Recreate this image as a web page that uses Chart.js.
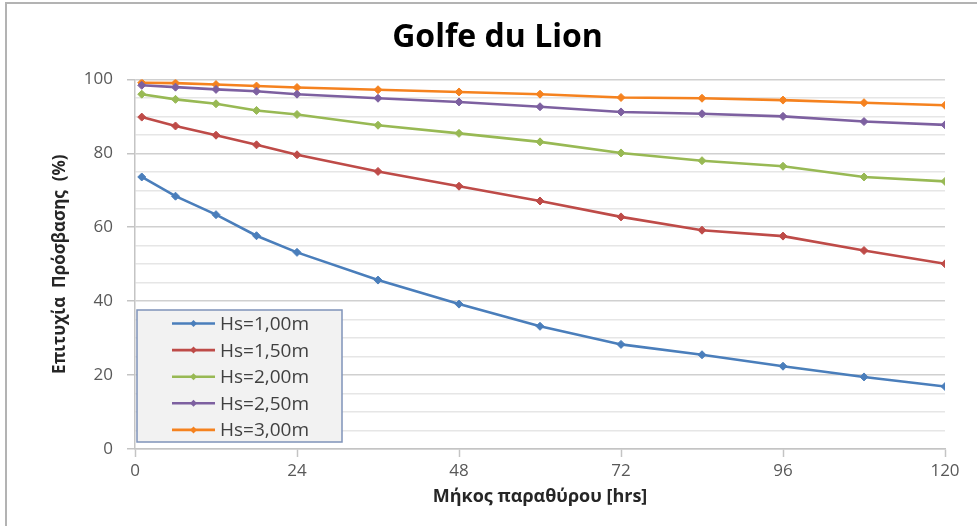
<!DOCTYPE html>
<html>
<head>
<meta charset="utf-8">
<title>Golfe du Lion</title>
<script src="https://cdn.jsdelivr.net/npm/chart.js@4.4.1/dist/chart.umd.min.js"></script>
<style>
  html, body { margin: 0; padding: 0; background: #ffffff; }
  #wrap { position: relative; width: 977px; height: 526px; }
  canvas { display: block; }
</style>
</head>
<body>
<div id="wrap"><canvas id="chart" width="977" height="526"></canvas></div>
<script>
// Window length (hours) at which accessibility was evaluated
const hours = [1, 6, 12, 18, 24, 36, 48, 60, 72, 84, 96, 108, 120];

// Access success (%) for each significant wave height threshold
const hs100 = [73.6, 68.4, 63.4, 57.7, 53.2, 45.7, 39.2, 33.2, 28.3, 25.5, 22.4, 19.5, 16.9];
const hs150 = [89.8, 87.4, 84.9, 82.3, 79.6, 75.1, 71.1, 67.1, 62.8, 59.2, 57.6, 53.7, 50.1];
const hs200 = [96.0, 94.6, 93.4, 91.6, 90.5, 87.6, 85.4, 83.1, 80.1, 78.0, 76.5, 73.6, 72.4];
const hs250 = [98.4, 97.9, 97.3, 96.8, 96.0, 94.9, 93.9, 92.6, 91.2, 90.7, 90.0, 88.6, 87.7];
const hs300 = [99.1, 99.0, 98.6, 98.2, 97.8, 97.2, 96.6, 96.0, 95.1, 94.9, 94.4, 93.7, 93.0];

const seriesNames = ['Hs=1,00m', 'Hs=1,50m', 'Hs=2,00m', 'Hs=2,50m', 'Hs=3,00m'];
const seriesValues = [hs100, hs150, hs200, hs250, hs300];
const seriesColors = ['#4a7ebb', '#be4b48', '#98b954', '#7d60a0', '#f5821f'];

const xTicks = [0, 24, 48, 72, 96, 120];
const yLabelled = [0, 20, 40, 60, 80, 100];

const FONT = '"Open Sans", "DejaVu Sans", sans-serif';

const datasets = seriesNames.map((name, i) => ({
  label: name,
  data: hours.map((h, k) => ({ x: h, y: seriesValues[i][k] })),
  borderColor: seriesColors[i],
  backgroundColor: seriesColors[i],
  borderWidth: 2.6,
  pointStyle: 'rectRot',
  pointRadius: 4,
  pointBorderWidth: 1,
  pointBorderColor: seriesColors[i],
  pointBackgroundColor: seriesColors[i],
  tension: 0,
  fill: false
}));

// Outer frame of the chart sheet
const framePlugin = {
  id: 'frame',
  beforeDraw(chart) {
    const ctx = chart.ctx;
    ctx.save();
    ctx.strokeStyle = '#b3b3b3';
    ctx.lineWidth = 2;
    ctx.beginPath();
    ctx.moveTo(6, chart.height);
    ctx.lineTo(6, 3);
    ctx.lineTo(chart.width, 3);
    ctx.stroke();
    ctx.restore();
  }
};

// Boxed legend placed inside the lower-left corner of the plot area
const insetLegend = {
  id: 'insetLegend',
  afterDatasetsDraw(chart) {
    const ctx = chart.ctx;
    const area = chart.chartArea;
    const boxW = 205, boxH = 132;
    const x0 = area.left + 2;
    const y0 = area.bottom - 7 - boxH;
    ctx.save();
    ctx.fillStyle = '#f2f2f2';
    ctx.fillRect(x0, y0, boxW, boxH);
    ctx.strokeStyle = '#7f93b9';
    ctx.lineWidth = 1.5;
    ctx.strokeRect(x0, y0, boxW, boxH);
    ctx.font = '19px ' + FONT;
    ctx.textBaseline = 'middle';
    ctx.textAlign = 'left';
    chart.data.datasets.forEach((ds, i) => {
      const cy = y0 + 13.5 + i * 26.6;
      ctx.strokeStyle = ds.borderColor;
      ctx.lineWidth = 2.6;
      ctx.beginPath();
      ctx.moveTo(x0 + 35, cy);
      ctx.lineTo(x0 + 78, cy);
      ctx.stroke();
      ctx.fillStyle = ds.borderColor;
      ctx.beginPath();
      ctx.moveTo(x0 + 56.5, cy - 3.5);
      ctx.lineTo(x0 + 60, cy);
      ctx.lineTo(x0 + 56.5, cy + 3.5);
      ctx.lineTo(x0 + 53, cy);
      ctx.closePath();
      ctx.fill();
      ctx.fillStyle = '#404040';
      ctx.fillText(ds.label, x0 + 83, cy + 1);
    });
    ctx.restore();
  }
};

new Chart(document.getElementById('chart'), {
  type: 'line',
  data: { datasets },
  plugins: [framePlugin, insetLegend],
  options: {
    responsive: false,
    animation: false,
    devicePixelRatio: 1,
    layout: { padding: { left: 50, right: 32, top: 0, bottom: 0 } },
    plugins: {
      legend: { display: false },
      tooltip: { enabled: false },
      title: {
        display: true,
        text: 'Golfe du Lion',
        color: '#000000',
        font: { family: FONT, size: 32, weight: 'bold' },
        padding: { top: 19, bottom: 22 }
      }
    },
    scales: {
      x: {
        type: 'linear',
        min: 0,
        max: 120,
        afterBuildTicks(scale) {
          scale.ticks = xTicks.map(v => ({ value: v }));
        },
        afterFit(scale) { scale.height = 77; },
        border: { color: '#c4c4c4', width: 1.5 },
        grid: {
          drawOnChartArea: false,
          drawTicks: true,
          tickLength: 8,
          tickColor: '#c4c4c4',
          tickWidth: 1.5
        },
        ticks: {
          color: '#595959',
          padding: 4,
          maxRotation: 0,
          autoSkip: false,
          font: { family: FONT, size: 17 }
        },
        title: {
          display: true,
          text: 'Μήκος παραθύρου [hrs]',
          color: '#262626',
          font: { family: FONT, size: 18, weight: 'bold' },
          padding: { top: 0, bottom: 18 }
        }
      },
      y: {
        type: 'linear',
        min: 0,
        max: 100,
        afterFit(scale) { scale.width = 85; },
        border: { color: '#c4c4c4', width: 1.5 },
        grid: {
          color: ctx => (ctx.tick && ctx.tick.value % 20 === 0) ? '#d0d0d0' : '#e6e6e6',
          lineWidth: 1.5,
          tickLength: 8,
          tickColor: ctx => (ctx.tick && ctx.tick.value % 20 === 0) ? '#c4c4c4' : 'rgba(0,0,0,0)',
          tickWidth: 1.5
        },
        ticks: {
          stepSize: 5,
          autoSkip: false,
          padding: 14,
          color: '#595959',
          font: { family: FONT, size: 17 },
          callback: v => yLabelled.includes(v) ? String(v) : ''
        },
        title: {
          display: true,
          text: 'Επιτυχία  Πρόσβασης  (%)',
          color: '#262626',
          font: { family: FONT, size: 17, weight: 'bold' },
          padding: { top: 0, bottom: 0 }
        }
      }
    }
  }
});
</script>
</body>
</html>
